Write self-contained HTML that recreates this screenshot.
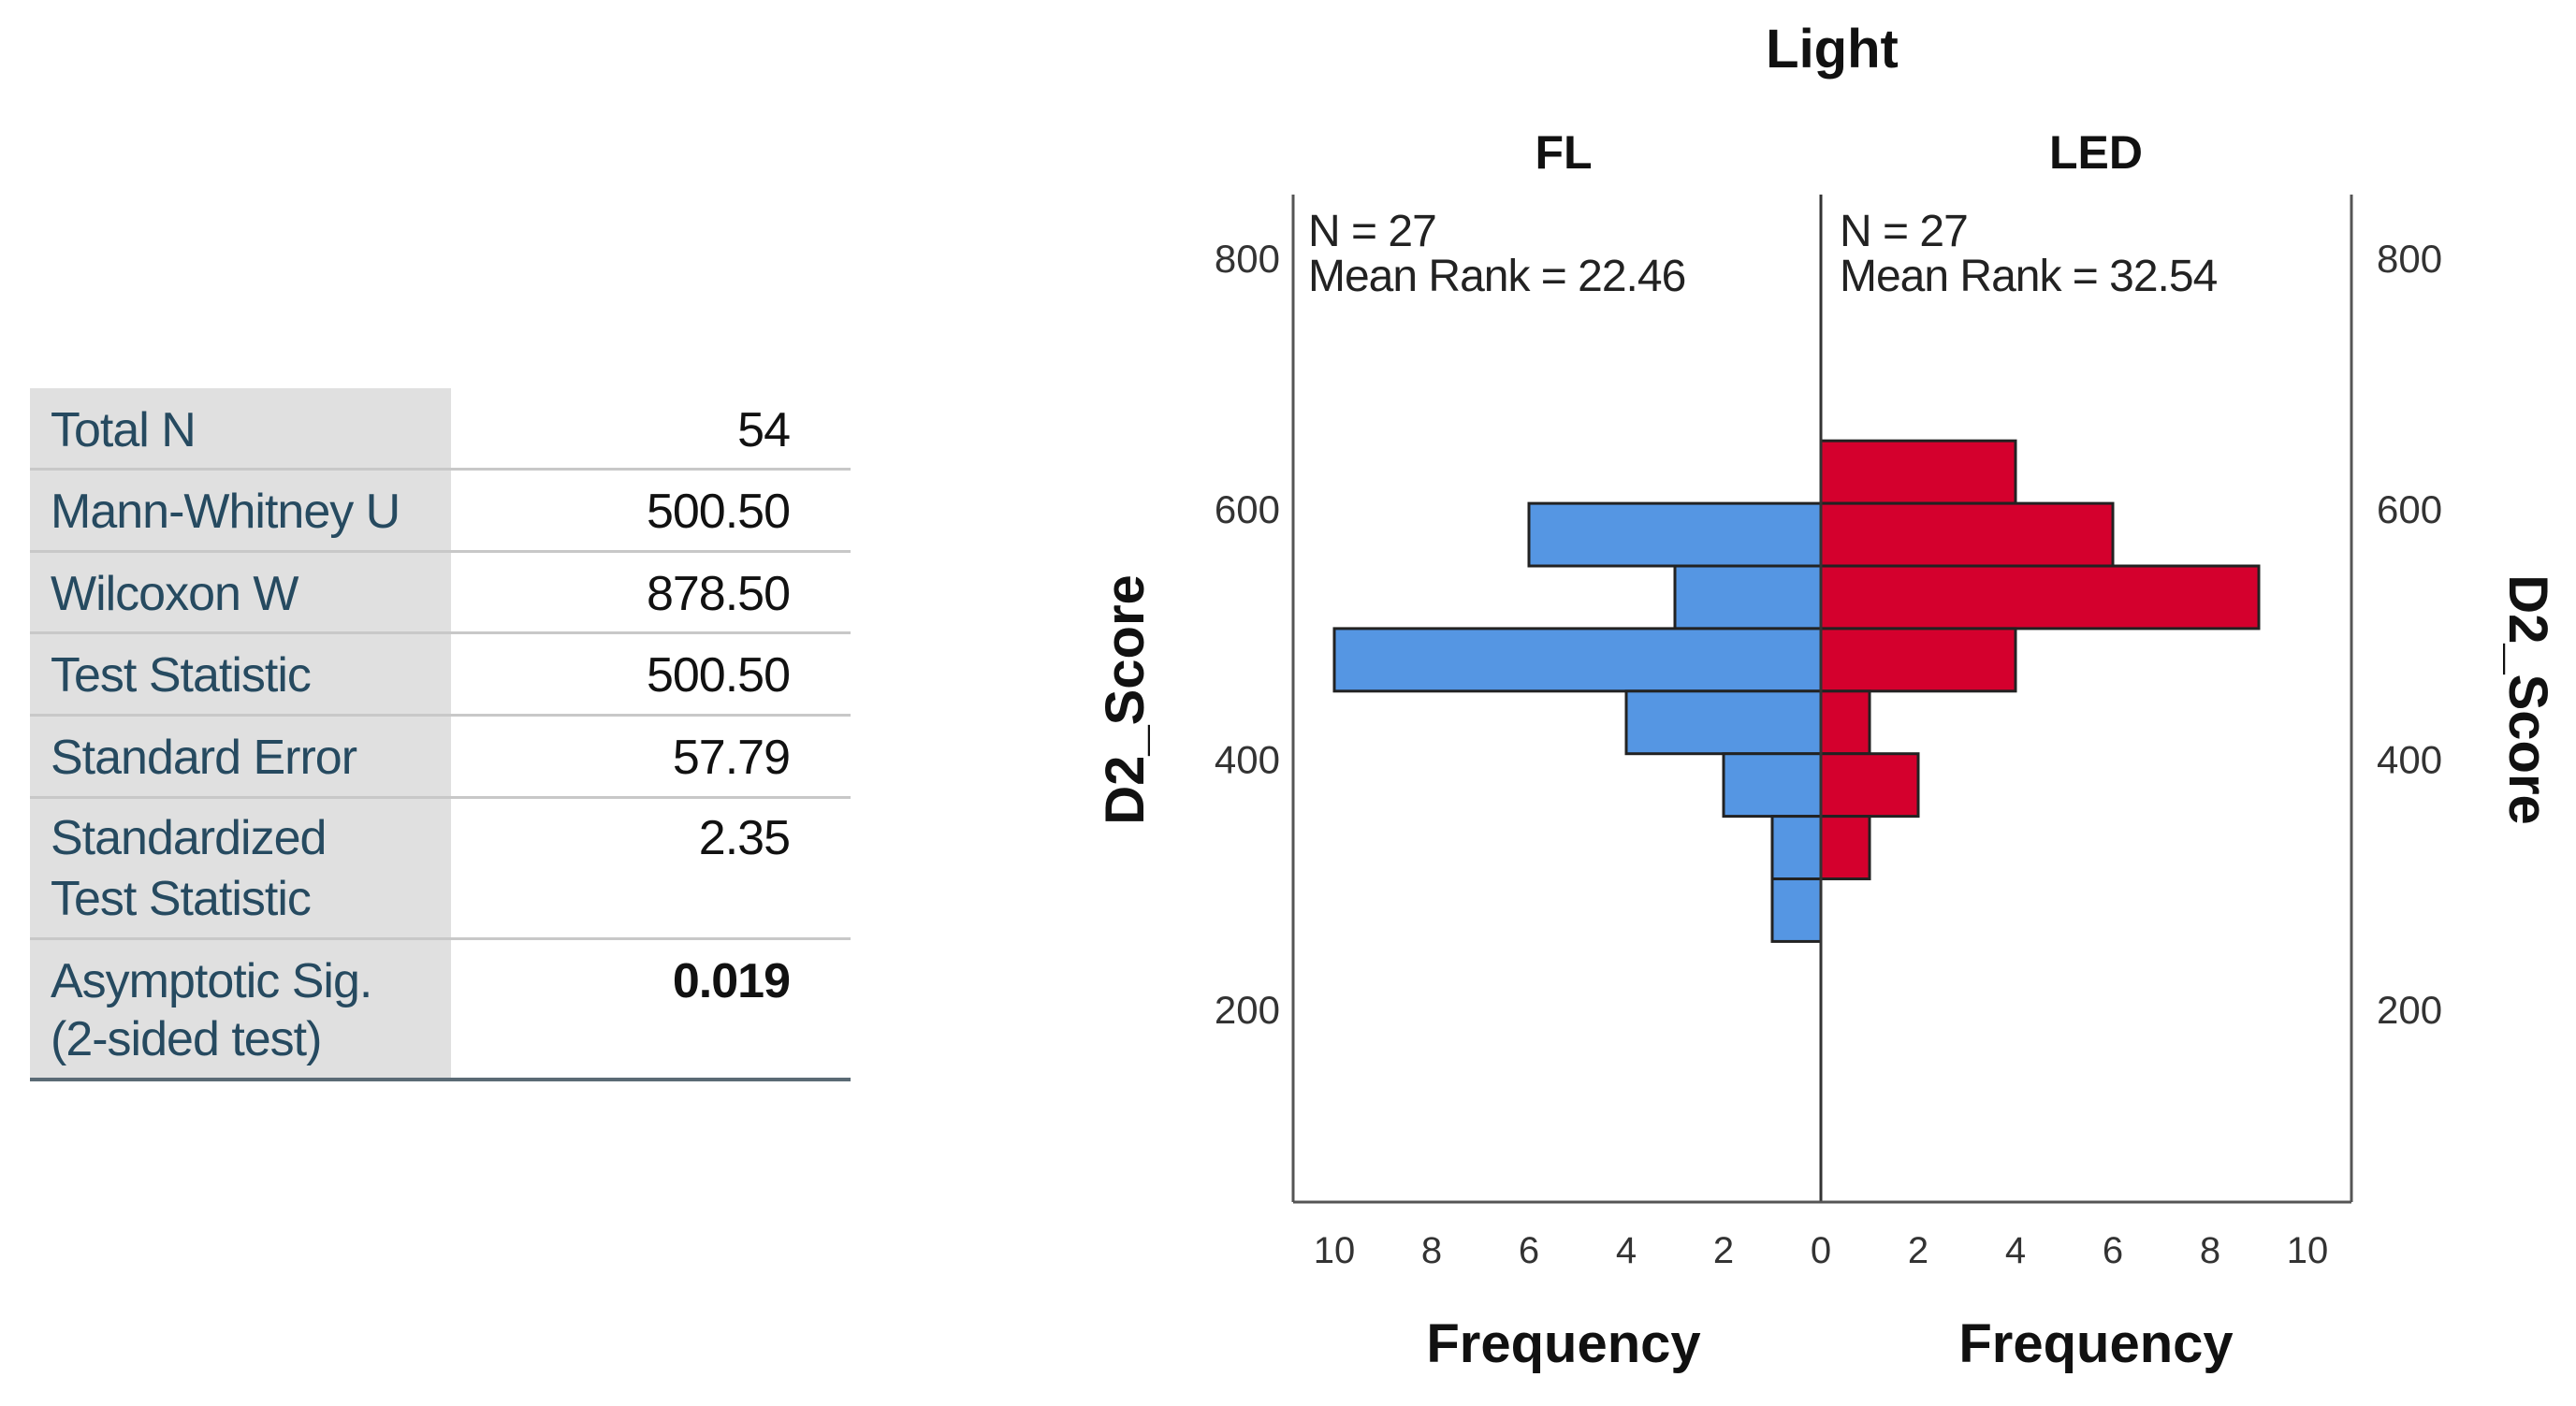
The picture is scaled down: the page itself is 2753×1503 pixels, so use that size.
<!DOCTYPE html>
<html><head><meta charset="utf-8"><style>
body{margin:0;width:2753px;height:1503px;background:#fff;overflow:hidden;position:relative;font-family:"Liberation Sans",sans-serif}
.tbl{position:absolute;left:32px;top:415px;width:877px}
.row{position:absolute;left:0;width:877px;border-bottom:3px solid #c8c8c8;box-sizing:border-box}
.lab{position:absolute;left:0;top:0;bottom:0;width:450px;background:#e0e0e0}
.lt{position:absolute;left:22px;color:#264a60;font-size:52px;letter-spacing:-1px;line-height:1}
.vt{position:absolute;right:65px;color:#111;font-size:52px;letter-spacing:-1px;line-height:1}
</style></head><body>
<div class="tbl">
 <div class="row" style="top:0;height:88px"><div class="lab"></div><div class="lt" style="top:19px">Total N</div><div class="vt" style="top:19px">54</div></div>
 <div class="row" style="top:88px;height:88px"><div class="lab"></div><div class="lt" style="top:18px">Mann-Whitney U</div><div class="vt" style="top:18px">500.50</div></div>
 <div class="row" style="top:176px;height:87px"><div class="lab"></div><div class="lt" style="top:18px">Wilcoxon W</div><div class="vt" style="top:18px">878.50</div></div>
 <div class="row" style="top:263px;height:88px"><div class="lab"></div><div class="lt" style="top:18px">Test Statistic</div><div class="vt" style="top:18px">500.50</div></div>
 <div class="row" style="top:351px;height:88px"><div class="lab"></div><div class="lt" style="top:18px">Standard Error</div><div class="vt" style="top:18px">57.79</div></div>
 <div class="row" style="top:439px;height:151px"><div class="lab"></div><div class="lt" style="top:16px">Standardized</div><div class="lt" style="top:81px">Test Statistic</div><div class="vt" style="top:16px">2.35</div></div>
 <div class="row" style="top:590px;height:151px;border-bottom:4px solid #5a6a75"><div class="lab"></div><div class="lt" style="top:18px">Asymptotic Sig.</div><div class="lt" style="top:80px">(2-sided test)</div><div class="vt" style="top:18px;font-weight:bold">0.019</div></div>
</div>
<svg id="chart" width="2753" height="1503" style="position:absolute;left:0;top:0"></svg>
<script>
const binStarts=[605,555,505,455,405,355,305,255];
const flCounts=[0,6,3,10,4,2,1,1];
const ledCounts=[4,6,9,4,1,2,1,0];
const yTicks=[200,400,600,800];
const xTicks=[0,2,4,6,8,10];
const binWidth=50;
const NS="http://www.w3.org/2000/svg";
const svg=document.getElementById('chart');
const cx=1946, pxPerUnit=52;
const y=v=>1080-(v-200)*1.338;
const xl=c=>cx-c*pxPerUnit, xr=c=>cx+c*pxPerUnit;
function mk(tag,attrs,text){const e=document.createElementNS(NS,tag);for(const k in attrs)e.setAttribute(k,attrs[k]);if(text!==undefined)e.textContent=text;svg.appendChild(e);return e;}
const yTop=208,yBot=1285,xL=1382,xR=2513;
binStarts.forEach((b,i)=>{
 const y1=y(b+binWidth),y2=y(b);
 if(flCounts[i]>0){const r=mk('rect',{x:xl(flCounts[i]),y:y1,width:cx-xl(flCounts[i]),height:y2-y1,fill:'#5596e3',stroke:'#222','stroke-width':3});
 
 }
 if(ledCounts[i]>0){const r=mk('rect',{x:cx,y:y1,width:xr(ledCounts[i])-cx,height:y2-y1,fill:'#d4002d',stroke:'#222','stroke-width':3});
 
 }
});
let a;
a=mk('line',{x1:xL,y1:yTop,x2:xL,y2:yBot,stroke:'#555','stroke-width':3});
a=mk('line',{x1:xR,y1:yTop,x2:xR,y2:yBot,stroke:'#555','stroke-width':3});
a=mk('line',{x1:cx,y1:yTop,x2:cx,y2:yBot,stroke:'#333','stroke-width':3});
a=mk('line',{x1:xL,y1:yBot,x2:xR,y2:yBot,stroke:'#555','stroke-width':3});
const tf='font-family:"Liberation Sans",sans-serif;';
yTicks.forEach(v=>{
 let t=mk('text',{x:1368,y:y(v)+14,'text-anchor':'end',style:tf+'font-size:42px;fill:#333'},v);
 
 t=mk('text',{x:2540,y:y(v)+14,'text-anchor':'start',style:tf+'font-size:42px;fill:#333'},v);
 
});
xTicks.forEach(v=>{
 let t=mk('text',{x:xl(v),y:1350,'text-anchor':'middle',style:tf+'font-size:40px;fill:#333'},v);
 
 if(v>0){t=mk('text',{x:xr(v),y:1350,'text-anchor':'middle',style:tf+'font-size:40px;fill:#333'},v);
 }
});
function txt(x,yy,s,style,name,anchor){const t=mk('text',{x:x,y:yy,'text-anchor':anchor||'middle',style:tf+style},s);return t;}
txt(1958,72,'Light','font-size:58px;font-weight:bold;fill:#111','chart-title');
txt(1671,180,'FL','font-size:50px;font-weight:bold;fill:#111','fl-panel-title');
txt(2240,180,'LED','font-size:50px;font-weight:bold;fill:#111','led-panel-title');
txt(1671,1456,'Frequency','font-size:58px;font-weight:bold;fill:#111','fl-x-axis-title');
txt(2240,1456,'Frequency','font-size:58px;font-weight:bold;fill:#111','led-x-axis-title');
txt(1398,263,'N = 27','font-size:48px;fill:#222;letter-spacing:-1px','fl-n-label','start');
txt(1398,311,'Mean Rank = 22.46','font-size:48px;fill:#222;letter-spacing:-1px','fl-mean-rank','start');
txt(1966,263,'N = 27','font-size:48px;fill:#222;letter-spacing:-1px','led-n-label','start');
txt(1966,311,'Mean Rank = 32.54','font-size:48px;fill:#222;letter-spacing:-1px','led-mean-rank','start');
let t1=txt(0,0,'D2_Score','font-size:58px;font-weight:bold;fill:#111','left-y-axis-title');t1.setAttribute('transform','translate(1222,748) rotate(-90)');
let t2=txt(0,0,'D2_Score','font-size:58px;font-weight:bold;fill:#111','right-y-axis-title');t2.setAttribute('transform','translate(2682,748) rotate(90)');
</script>
</body></html>
